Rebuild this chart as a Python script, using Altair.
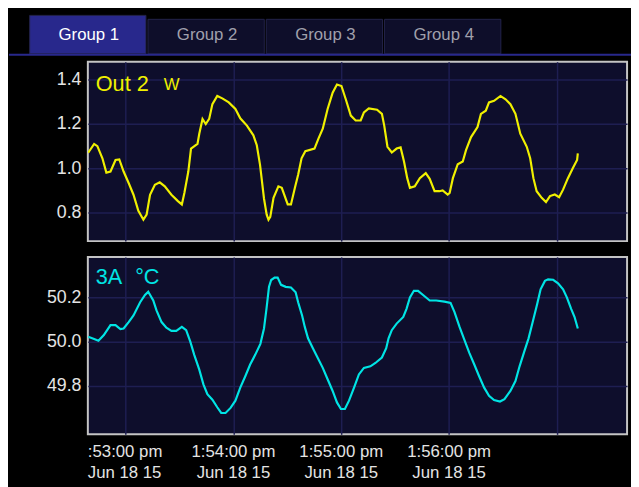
import altair as alt
import pandas as pd

# ---------------- data ----------------
tab_names = ["Group 1", "Group 2", "Group 3", "Group 4"]
selected_tab = "Group 1"

# time in seconds relative to 1:53:00 pm, Jun 18 2015
top_t = [-20.8, -17.5, -15.7, -12.9, -10.7, -8.4, -5.6, -3.5, -1.1, 1.7,
         4.4, 7.1, 9.9, 11.7, 13.6, 16.3, 19.0, 21.8, 25.5, 29.1,
         31.3, 32.7, 34.9, 36.4, 40.0, 41.0, 42.8, 44.6, 46.5, 48.3,
         51.0, 53.8, 57.4, 61.1, 63.8, 67.5, 71.1, 73.0, 74.8, 77.0,
         78.5, 79.5, 80.5, 82.3, 85.0, 86.9, 90.2, 92.0, 94.2, 96.0,
         97.9, 100.0, 105.1, 107.3, 109.7, 112.4, 115.2, 117.6, 120.1, 122.5,
         125.3, 128.0, 130.8, 132.6, 135.3, 139.9, 142.6, 143.9, 145.7, 148.1,
         150.8, 153.0, 154.9, 156.7, 158.2, 160.9, 163.7, 167.0, 169.2, 171.9,
         174.6, 176.4, 179.2, 180.3, 182.1, 184.8, 187.6, 189.4, 192.2, 195.8,
         197.7, 200.4, 202.2, 205.0, 208.6, 211.4, 214.1, 216.9, 219.6, 223.2,
         225.1, 226.9, 228.7, 231.5, 233.9, 236.1, 238.8, 241.2, 243.4, 246.1,
         248.8, 251.2, 251.6]
top_v = [1.07, 1.11, 1.10, 1.045, 0.98, 0.985, 1.037, 1.04, 0.985, 0.933,
         0.88, 0.807, 0.767, 0.79, 0.88, 0.925, 0.936, 0.918, 0.88, 0.851,
         0.836, 0.888, 0.985, 1.089, 1.11, 1.156, 1.223, 1.2, 1.223, 1.29,
         1.327, 1.316, 1.298, 1.268, 1.226, 1.193, 1.149, 1.104, 1.015, 0.863,
         0.79, 0.767, 0.78, 0.866, 0.918, 0.911, 0.836, 0.836, 0.911, 0.97,
         1.045, 1.077, 1.089, 1.134, 1.179, 1.268, 1.342, 1.379, 1.372, 1.312,
         1.238, 1.216, 1.216, 1.253, 1.271, 1.265, 1.246, 1.193, 1.097, 1.071,
         1.089, 1.094, 1.03, 0.955, 0.911, 0.918, 0.955, 0.978, 0.952, 0.896,
         0.896, 0.899, 0.881, 0.888, 0.955, 1.018, 1.03, 1.082, 1.141, 1.186,
         1.246, 1.26, 1.298, 1.305, 1.327, 1.312, 1.29, 1.246, 1.156, 1.097,
         1.045, 0.955, 0.896, 0.866, 0.847, 0.874, 0.881, 0.869, 0.903, 0.955,
         1.0, 1.037, 1.067]

bot_t = [-20.8, -17.5, -15.1, -12.1, -8.4, -5.6, -2.9, -1.1, 1.7, 4.4,
         8.1, 10.8, 12.6, 15.4, 17.2, 20.0, 22.7, 25.5, 28.2, 31.3,
         33.7, 36.0, 38.2, 41.0, 43.3, 45.5, 48.3, 51.0, 53.2, 55.6,
         58.4, 61.1, 63.8, 66.6, 69.3, 72.1, 75.0, 77.0, 78.4, 79.8,
         81.0, 82.9, 84.6, 86.5, 89.1, 92.0, 94.6, 96.0, 98.2, 99.7,
         101.5, 104.2, 107.0, 109.7, 112.4, 115.2, 117.6, 119.8, 122.0, 124.3,
         127.1, 129.8, 132.6, 136.2, 139.0, 142.6, 145.0, 146.3, 148.1, 150.8,
         154.5, 156.3, 158.2, 160.4, 162.7, 165.5, 169.2, 172.8, 177.4, 180.8,
         183.0, 185.8, 188.5, 191.3, 194.0, 196.7, 199.5, 202.2, 205.0, 208.3,
         210.8, 214.1, 216.9, 219.2, 221.8, 224.2, 226.5, 229.0, 230.9, 233.3,
         235.1, 237.9, 240.6, 243.4, 245.5, 247.9, 249.8, 251.6]
bot_v = [50.022, 50.012, 50.004, 50.030, 50.075, 50.075, 50.057, 50.06, 50.089, 50.119,
         50.179, 50.212, 50.227, 50.187, 50.142, 50.089, 50.063, 50.049, 50.049, 50.067,
         50.052, 50.0, 49.94, 49.873, 49.806, 49.761, 49.736, 49.702, 49.676, 49.676,
         49.699, 49.732, 49.791, 49.843, 49.896, 49.94, 49.99, 50.06, 50.15, 50.25,
         50.28, 50.291, 50.291, 50.258, 50.249, 50.246, 50.224, 50.179, 50.119, 50.067,
         50.015, 49.97, 49.925, 49.881, 49.829, 49.776, 49.724, 49.694, 49.694, 49.732,
         49.791, 49.851, 49.881, 49.888, 49.903, 49.928, 49.97, 50.015, 50.052, 50.082,
         50.112, 50.149, 50.201, 50.231, 50.231, 50.212, 50.187, 50.187, 50.182, 50.176,
         50.134, 50.067, 50.008, 49.948, 49.896, 49.843, 49.791, 49.754, 49.735, 49.728,
         49.739, 49.776, 49.821, 49.888, 49.955, 50.015, 50.089, 50.171, 50.238, 50.276,
         50.283, 50.281, 50.265, 50.238, 50.201, 50.149, 50.112, 50.06]

grid_t = [0, 60, 120, 180, 240]
label_t = [0, 60, 120, 180]
label_time = [":53:00 pm", "1:54:00 pm", "1:55:00 pm", "1:56:00 pm"]
label_date = ["Jun 18 15", "Jun 18 15", "Jun 18 15", "Jun 18 15"]

top_ticks = [0.8, 1.0, 1.2, 1.4]
bot_ticks = [49.8, 50.0, 50.2]
top_name, top_unit = "Out 2", "W"
bot_name, bot_unit = "3A", "°C"

# ---------------- style ----------------
FONT = "Liberation Sans"
BG = "#000000"
PANEL = "#0e0e2c"
GRID = "#1e1e52"
BORDER = "#c4c4c4"
YELLOW = "#f0f000"
CYAN = "#00e4e4"
LABEL = "#e4e4e4"
TAB_SEL = "#28288c"
TAB_OFF = "#0e0e2a"
XDOM = [-21, 279]
PW = 547
AXW = 80

xscale = alt.Scale(domain=XDOM, nice=False, zero=False)


def panel(t, v, color, ydom, yticks, name, unit, unit_x, h, base_y, with_labels):
    df = pd.DataFrame({"t": t, "v": v})
    x = alt.X("t:Q", scale=xscale,
              axis=alt.Axis(values=grid_t, labels=False, ticks=False, domain=False,
                            grid=True, gridColor=GRID, gridWidth=1.5, title=None))
    y = alt.Y("v:Q", scale=alt.Scale(domain=ydom, nice=False, zero=False),
              axis=alt.Axis(values=yticks, format=".1f", ticks=False, domain=False,
                            grid=True, gridColor=GRID, gridWidth=1.5,
                            labelColor=LABEL, labelFont=FONT, labelFontSize=18,
                            labelPadding=7, labelFlush=False, labelOverlap=False,
                            minExtent=AXW, maxExtent=AXW, title=None))
    line = alt.Chart(df).mark_line(color=color, strokeWidth=2.2, clip=True).encode(x=x, y=y)
    name_txt = alt.Chart(pd.DataFrame({"s": [name]})).mark_text(
        align="left", baseline="alphabetic", font=FONT, fontSize=22, color=color
    ).encode(x=alt.value(8), y=alt.value(base_y), text="s:N")
    unit_txt = alt.Chart(pd.DataFrame({"s": [unit]})).mark_text(
        align="left", baseline="alphabetic", font=FONT, fontSize=17 if unit == "W" else 22,
        color=color
    ).encode(x=alt.value(unit_x), y=alt.value(base_y - (1 if unit == "W" else 0)), text="s:N")
    layers = [line, name_txt, unit_txt]
    if with_labels:
        lab = pd.DataFrame({"t": label_t, "time": label_time, "date": label_date})
        first = lab.iloc[:1]
        rest = lab.iloc[1:]
        for col, dy in (("time", 18), ("date", 39)):
            layers.append(alt.Chart(rest).mark_text(
                align="center", baseline="middle", font=FONT, fontSize=17, color=LABEL
            ).encode(x=x, y=alt.value(h + dy), text=f"{col}:N"))
            layers.append(alt.Chart(first).mark_text(
                align="left", baseline="middle", font=FONT, fontSize=17, color=LABEL
            ).encode(x=alt.value(0), y=alt.value(h + dy), text=f"{col}:N"))
    return alt.layer(*layers).properties(
        width=PW, height=h,
        view=alt.ViewBackground(fill=PANEL, stroke=BORDER, strokeWidth=2),
    )


# ---------------- tabs ----------------
# tab index -> pixel: the tab strip's plot area is aligned with the panels
TW = 631 - AXW
TX = [(AXW - 21) / 120, (TW + AXW - 21) / 120]
tab_df = pd.DataFrame({"name": tab_names, "i": list(range(len(tab_names)))})
tab_df["x0"] = tab_df["i"]
tab_df["x1"] = tab_df["i"] + 0.983
tab_df["xc"] = tab_df["i"] + 0.5
tab_df["y0"] = 2
tab_df["y1"] = [41 if n == selected_tab else 37 for n in tab_names]
tab_df["fill"] = [TAB_SEL if n == selected_tab else TAB_OFF for n in tab_names]
tab_df["tc"] = ["#ffffff" if n == selected_tab else "#a0a0ac" for n in tab_names]
tab_df["yt"] = 21.5

under = pd.DataFrame({"x0": [-21 / 120], "x1": [TX[1]], "y0": [0], "y1": [2]})
tx = alt.X("x0:Q", scale=alt.Scale(domain=TX, nice=False, zero=False), axis=None)
ty = alt.Y("y0:Q", scale=alt.Scale(domain=[0, 45], nice=False, zero=False), axis=None)

tab_rects = alt.Chart(tab_df).mark_rect(stroke="#24244a", strokeWidth=1).encode(
    x=tx, x2="x1:Q", y=ty, y2="y1:Q", color=alt.Color("fill:N", scale=None))
tab_line = alt.Chart(under).mark_rect(color=TAB_SEL).encode(x=tx, x2="x1:Q", y=ty, y2="y1:Q")
tab_text = alt.Chart(tab_df).mark_text(font=FONT, fontSize=17, baseline="middle").encode(
    x=alt.X("xc:Q", scale=alt.Scale(domain=TX, nice=False, zero=False), axis=None),
    y=alt.Y("yt:Q", scale=alt.Scale(domain=[0, 45], nice=False, zero=False), axis=None),
    text="name:N", color=alt.Color("tc:N", scale=None))
tabs = alt.layer(tab_rects, tab_line, tab_text).properties(
    width=TW, height=45, view=alt.ViewBackground(fill=BG, strokeWidth=0))

p1 = panel(top_t, top_v, YELLOW, [0.670, 1.482], top_ticks, top_name, top_unit, 77, 182, 30, False)
p2 = panel(bot_t, bot_v, CYAN, [49.579, 50.385], bot_ticks, bot_name, bot_unit, 48, 180, 28, True)

chart = alt.vconcat(tabs, alt.vconcat(p1, p2, spacing=14), spacing=5).properties(
    background=BG,
    padding={"left": 0, "top": 0, "right": 0, "bottom": 6},
).configure_view(strokeWidth=0)

chart.save("out.html", embed_options={"renderer": "svg", "actions": False})
